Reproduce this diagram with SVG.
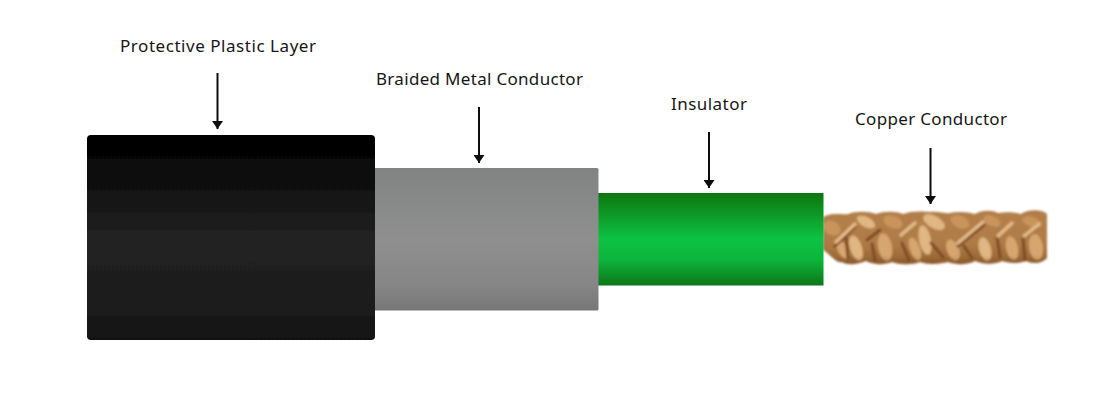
<svg xmlns="http://www.w3.org/2000/svg" width="1120" height="400" viewBox="0 0 1120 400">
<style>
.lbl{font-family:"Noto Sans","Liberation Sans",sans-serif;font-size:17px;font-weight:400;fill:#161616}
.arrow{stroke:#0d0d0d;stroke-width:2;fill:none;marker-end:url(#ah)}
.bar{stroke:#e3bb8a;stroke-width:3.500;stroke-linecap:round;fill:none}
.crease{stroke:#7d4c24;stroke-width:3;stroke-linecap:round;fill:none}
.lump{fill:#d6a670}
.lump2{fill:#c8945c}
.lump3{fill:#e0b682}
</style>
<defs>
<marker id="ah" markerUnits="userSpaceOnUse" markerWidth="8" markerHeight="11" refX="8" refY="5.500" orient="auto"><path d="M0 0L8 5.500L0 11Z" fill="#0d0d0d"/></marker>
<linearGradient id="blk" x1="0" y1="0" x2="0" y2="1"><stop offset="0" stop-color="#000"/><stop offset=".12" stop-color="#070707"/><stop offset=".5" stop-color="#222"/><stop offset=".85" stop-color="#1c1c1c"/><stop offset="1" stop-color="#111"/></linearGradient>
<linearGradient id="gry" x1="0" y1="0" x2="0" y2="1"><stop offset="0" stop-color="#818383"/><stop offset=".5" stop-color="#8f8f8f"/><stop offset=".82" stop-color="#868686"/><stop offset="1" stop-color="#767676"/></linearGradient>
<linearGradient id="grn" x1="0" y1="0" x2="0" y2="1"><stop offset="0" stop-color="#08760f"/><stop offset=".5" stop-color="#0bc243"/><stop offset=".72" stop-color="#0bb53a"/><stop offset="1" stop-color="#08761a"/></linearGradient>
<linearGradient id="cop" x1="0" y1="0" x2="0" y2="1"><stop offset="0" stop-color="#b5824e"/><stop offset=".6" stop-color="#ae7a45"/><stop offset="1" stop-color="#8f5b2e"/></linearGradient>
<linearGradient id="shade" x1="0" y1="0" x2="0" y2="1"><stop offset="0" stop-color="#7a4a20" stop-opacity=".2"/><stop offset=".18" stop-color="#7a4a20" stop-opacity="0"/><stop offset=".78" stop-color="#6e411a" stop-opacity="0"/><stop offset="1" stop-color="#6e411a" stop-opacity=".55"/></linearGradient>
<filter id="soft" x="-5%" y="-10%" width="110%" height="120%"><feGaussianBlur stdDeviation="1.100"/></filter>
<filter id="edge" x="-2%" y="-2%" width="104%" height="104%"><feGaussianBlur stdDeviation="0.4"/></filter>
<clipPath id="rope"><path d="M823 217C832 212 842 215 848 214C856 211 868 211 876 214C884 211 896 211 903 214C910 211 922 211 930 212C938 211 946 214 950 213C958 211 968 212 975 214C982 210 992 210 998 213C1006 212 1014 212 1021 214C1028 209 1042 209 1047 214V258C1042 264 1032 264 1026 261C1018 264 1008 263 1002 261C994 265 982 264 975 261C968 265 956 265 948 262C940 264 928 265 920 262C912 265 900 265 892 262C884 265 874 265 866 261C858 264 848 266 842 262C836 264 828 252 823 250Z"/></clipPath>
</defs>
<rect width="1120" height="400" fill="#fff"/>
<g id="copper-conductor">
<g filter="url(#soft)">
<g clip-path="url(#rope)">
<rect x="820" y="205" width="230" height="65" fill="url(#cop)"/>
<ellipse class="lump2" cx="832" cy="228" rx="9" ry="7" transform="rotate(30 832 228)"/>
<ellipse class="lump3" cx="856" cy="248" rx="13" ry="6" transform="rotate(72 856 248)"/>
<ellipse class="lump" cx="843" cy="250" rx="10" ry="5" transform="rotate(60 843 250)"/>
<ellipse class="lump3" cx="866" cy="222" rx="10" ry="5" transform="rotate(28 866 222)"/>
<ellipse class="lump" cx="885" cy="247" rx="14" ry="7" transform="rotate(80 885 247)"/>
<ellipse class="lump2" cx="893" cy="222" rx="10" ry="6" transform="rotate(20 893 222)"/>
<ellipse class="lump" cx="915" cy="249" rx="12" ry="5" transform="rotate(70 915 249)"/>
<ellipse class="lump3" cx="925" cy="240" rx="15" ry="6" transform="rotate(78 925 240)"/>
<ellipse class="lump3" cx="934" cy="222" rx="12" ry="6" transform="rotate(30 934 222)"/>
<ellipse class="lump" cx="953" cy="250" rx="11" ry="6" transform="rotate(68 953 250)"/>
<ellipse class="lump2" cx="960" cy="222" rx="10" ry="6" transform="rotate(25 960 222)"/>
<ellipse class="lump3" cx="985" cy="249" rx="12" ry="6" transform="rotate(75 985 249)"/>
<ellipse class="lump2" cx="992" cy="221" rx="9" ry="5" transform="rotate(25 992 221)"/>
<ellipse class="lump" cx="1012" cy="248" rx="12" ry="6" transform="rotate(78 1012 248)"/>
<ellipse class="lump" cx="1036" cy="247" rx="13" ry="7" transform="rotate(82 1036 247)"/>
<ellipse class="lump2" cx="1032" cy="222" rx="10" ry="5" transform="rotate(20 1032 222)"/>
<path class="crease" d="M846 238L848 258"/>
<path class="crease" d="M867 240L880 230"/>
<path class="crease" d="M872 244L875 260"/>
<path class="crease" d="M902 243L909 260"/>
<path class="crease" d="M931 243L943 257"/>
<path class="crease" d="M964 246L972 258"/>
<path class="crease" d="M997 237L1000 257"/>
<path class="crease" d="M1023 238L1025 260"/>
<path class="crease" d="M835 246L855 227"/>
<path class="crease" d="M958 246L984 225"/>
<path class="bar" d="M836 242L855 224"/>
<path class="bar" d="M901 235L915 223"/>
<path class="bar" d="M958 243L983 222"/>
<path class="bar" d="M998 236L1012 223"/>
<path class="bar" d="M1024 236L1039 224"/>
<rect x="820" y="205" width="230" height="65" fill="url(#shade)"/>
</g>
</g>
</g>
<g id="insulator"><rect x="598" y="193" width="225.500" height="92.500" fill="url(#grn)" filter="url(#edge)"/></g>
<g id="braided-metal-conductor"><rect x="374" y="168" width="224.500" height="142.500" rx="1.500" fill="url(#gry)" filter="url(#edge)"/></g>
<g id="protective-plastic-layer"><rect x="87" y="135" width="288" height="205" rx="4" fill="url(#blk)" filter="url(#edge)"/></g>
<g id="connectors">
<path class="arrow" d="M217.500 73V129"/>
<path class="arrow" d="M479 107V163"/>
<path class="arrow" d="M709 132V188"/>
<path class="arrow" d="M930.500 148V204"/>
</g>
<g id="labels">
<text class="lbl" x="120" y="51.500" textLength="196" lengthAdjust="spacing">Protective Plastic Layer</text>
<text class="lbl" x="376" y="85" textLength="207" lengthAdjust="spacing">Braided Metal Conductor</text>
<text class="lbl" x="671" y="110" textLength="76" lengthAdjust="spacing">Insulator</text>
<text class="lbl" x="855" y="125" textLength="152" lengthAdjust="spacing">Copper Conductor</text>
</g>
</svg>
